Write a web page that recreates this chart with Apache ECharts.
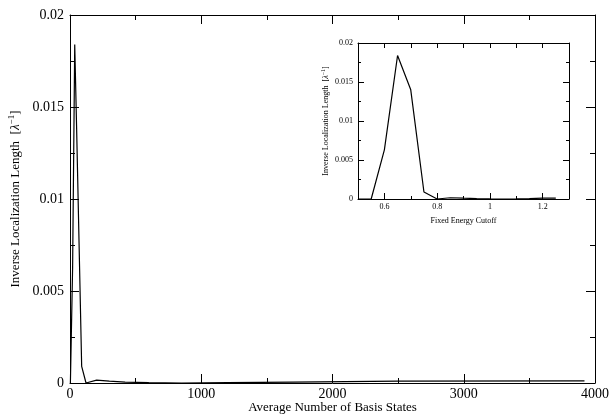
<!DOCTYPE html>
<html>
<head>
<meta charset="utf-8">
<script src="https://cdn.jsdelivr.net/npm/echarts@6/dist/echarts.min.js"></script>
<style>
  html, body { margin: 0; padding: 0; background: #fff; }
  #chart { width: 611px; height: 415px; }
</style>
</head>
<body>
<div id="chart"></div>
<script>
// energy cutoff for each run and its average basis size
var energyCutoff = [0.5, 0.55, 0.6, 0.65, 0.7, 0.75, 0.8, 0.85, 0.9, 0.95, 1.0, 1.05, 1.1, 1.15, 1.2, 1.25];
var avgBasis = [3, 8, 20, 36, 50, 89, 122, 203, 300, 420, 600, 850, 1200, 1700, 2500, 3920];
var invLength = [0, 0, 0.0063, 0.0184, 0.014, 0.0009, 0, 0.00016, 0.0001, 0.00005, 0.00002, 0, 0.00002, 0.00005, 0.0001, 0.00012];

var insetMajor = [0.6, 0.8, 1, 1.2];
var insetMinor = [0.7, 0.9, 1.1];

var FONT = 'Liberation Serif';

function draw_chart() {
  var dom = document.getElementById('chart');
  var myChart = echarts.init(dom, null, { renderer: 'canvas' });

  var mainData = avgBasis.map(function (x, i) { return [x, invLength[i]]; });
  var insetData = energyCutoff.map(function (x, i) { return [x, invLength[i]]; });

  var line = { color: '#000', width: 1 };
  var axLine = { show: true, onZero: false, lineStyle: line };
  var lbl = function (size, margin) {
    return { color: '#000', fontFamily: FONT, fontSize: size, margin: margin,
             formatter: function (v) { return String(v); } };
  };

  var option = {
    animation: false,
    backgroundColor: '#fff',
    grid: [
      { left: 70, top: 15, right: 16, bottom: 32, outerBoundsMode: 'none' },
      { left: 358, top: 43, width: 211, height: 156, outerBoundsMode: 'none',
        show: true, backgroundColor: '#fff', borderWidth: 0 },
      { left: 358, top: 43, width: 211, height: 156, outerBoundsMode: 'none' }
    ],
    xAxis: [
      {
        gridIndex: 0, type: 'value', position: 'bottom', min: 0, max: 4000, interval: 1000,
        axisLine: axLine,
        axisTick: { inside: true, length: 9, lineStyle: line },
        minorTick: { show: true, splitNumber: 2, length: 5, lineStyle: line },
        splitLine: { show: false },
        axisLabel: lbl(14, 4),
        name: 'Average Number of Basis States', nameLocation: 'middle', nameGap: 18,
        nameMoveOverlap: false,
        nameTextStyle: { color: '#000', fontFamily: FONT, fontSize: 13 }
      },
      {
        gridIndex: 0, type: 'value', position: 'top', min: 0, max: 4000, interval: 1000,
        axisLine: axLine,
        axisTick: { inside: true, length: 9, lineStyle: line },
        minorTick: { show: true, splitNumber: 2, length: 5, lineStyle: line },
        splitLine: { show: false },
        axisLabel: { show: false }
      },
      {
        gridIndex: 1, type: 'value', position: 'bottom', min: 0.5, max: 1.3, interval: 0.1,
        axisLine: axLine,
        axisTick: { inside: true, length: 6, lineStyle: line, customValues: insetMajor },
        splitLine: { show: false },
        axisLabel: Object.assign(lbl(8, 4), { customValues: insetMajor }),
        name: 'Fixed Energy Cutoff', nameLocation: 'middle', nameGap: 18,
        nameMoveOverlap: false,
        nameTextStyle: { color: '#000', fontFamily: FONT, fontSize: 8 }
      },
      {
        gridIndex: 1, type: 'value', position: 'top', min: 0.5, max: 1.3, interval: 0.1,
        axisLine: axLine,
        axisTick: { inside: true, length: 5, lineStyle: line },
        splitLine: { show: false },
        axisLabel: { show: false }
      },
      {
        gridIndex: 2, type: 'value', position: 'bottom', min: 0.5, max: 1.3, interval: 0.1,
        axisLine: { show: false, onZero: false },
        axisTick: { inside: true, length: 3, lineStyle: line, customValues: insetMinor },
        splitLine: { show: false },
        axisLabel: { show: false }
      }
    ],
    yAxis: [
      {
        gridIndex: 0, type: 'value', position: 'left', min: 0, max: 0.02, interval: 0.005,
        axisLine: axLine,
        axisTick: { show: true, inside: true, length: 9, lineStyle: line },
        minorTick: { show: true, splitNumber: 2, length: 5, lineStyle: line },
        splitLine: { show: false },
        axisLabel: lbl(14, 6),
        name: '{t|Inverse Localization Length  [}{l|λ}{s|−1}{t|]}',
        nameLocation: 'middle', nameGap: 45, nameRotate: 90, nameMoveOverlap: false,
        nameTextStyle: {
          color: '#000', fontFamily: FONT, fontSize: 13,
          rich: {
            t: { fontFamily: FONT, fontSize: 13, color: '#000', lineHeight: 18 },
            l: { fontFamily: FONT, fontSize: 13, color: '#000', fontStyle: 'italic', lineHeight: 18 },
            s: { fontFamily: FONT, fontSize: 9, color: '#000', verticalAlign: 'top', lineHeight: 18 }
          }
        }
      },
      {
        gridIndex: 0, type: 'value', position: 'right', min: 0, max: 0.02, interval: 0.005,
        axisLine: axLine,
        axisTick: { show: true, inside: true, length: 9, lineStyle: line },
        minorTick: { show: true, splitNumber: 2, length: 5, lineStyle: line },
        splitLine: { show: false },
        axisLabel: { show: false }
      },
      {
        gridIndex: 1, type: 'value', position: 'left', min: 0, max: 0.02, interval: 0.005,
        axisLine: axLine,
        axisTick: { show: true, inside: true, length: 6, lineStyle: line },
        minorTick: { show: true, splitNumber: 2, length: 3, lineStyle: line },
        splitLine: { show: false },
        axisLabel: lbl(8, 5),
        name: '{t|Inverse Localization Length  [}{l|λ}{s|−1}{t|]}',
        nameLocation: 'middle', nameGap: 27, nameRotate: 90, nameMoveOverlap: false,
        nameTextStyle: {
          color: '#000', fontFamily: FONT, fontSize: 8,
          rich: {
            t: { fontFamily: FONT, fontSize: 8, color: '#000', lineHeight: 11 },
            l: { fontFamily: FONT, fontSize: 8, color: '#000', fontStyle: 'italic', lineHeight: 11 },
            s: { fontFamily: FONT, fontSize: 6, color: '#000', verticalAlign: 'top', lineHeight: 11 }
          }
        }
      },
      {
        gridIndex: 1, type: 'value', position: 'right', min: 0, max: 0.02, interval: 0.005,
        axisLine: axLine,
        axisTick: { show: true, inside: true, length: 6, lineStyle: line },
        minorTick: { show: true, splitNumber: 2, length: 3, lineStyle: line },
        splitLine: { show: false },
        axisLabel: { show: false }
      },
      {
        gridIndex: 2, type: 'value', show: false, min: 0, max: 0.02
      }
    ],
    series: [
      {
        type: 'line', xAxisIndex: 0, yAxisIndex: 0, data: mainData,
        showSymbol: false, symbol: 'none',
        lineStyle: { color: '#000', width: 1.2 }
      },
      {
        type: 'line', xAxisIndex: 2, yAxisIndex: 2, data: insetData,
        showSymbol: false, symbol: 'none', z: 5,
        lineStyle: { color: '#000', width: 1.2 }
      }
    ]
  };

  myChart.setOption(option);
  window.onresize = myChart.resize;
}

draw_chart();
</script>
</body>
</html>
